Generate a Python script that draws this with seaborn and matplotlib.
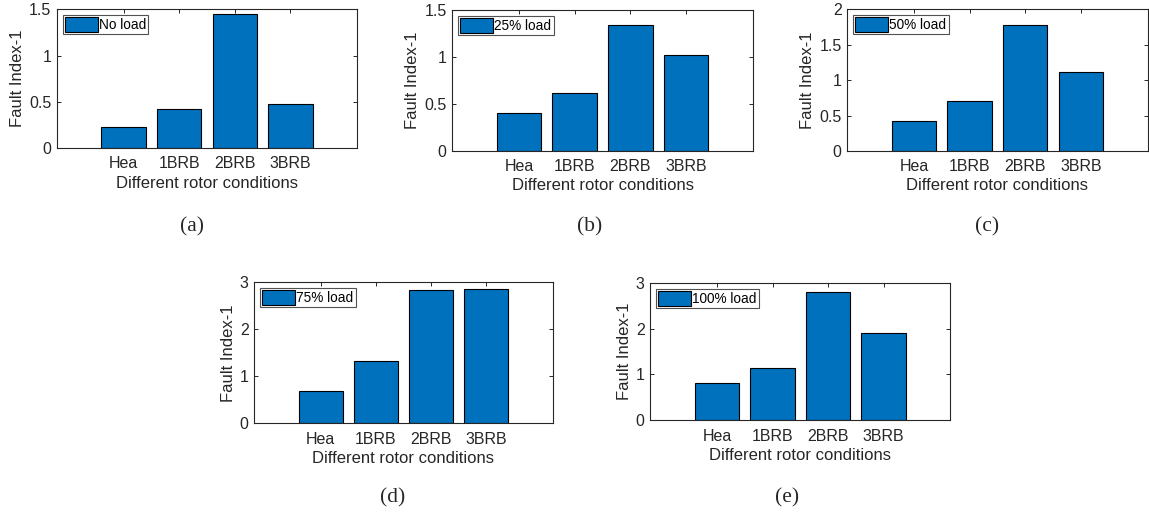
import matplotlib
matplotlib.use("Agg")
import matplotlib.pyplot as plt
import seaborn as sns
import pandas as pd

sns.set_style("white")
plt.rcParams['font.family'] = ['Liberation Sans', 'DejaVu Sans']

categories = ["Hea", "1BRB", "2BRB", "3BRB"]
no_load = [0.231, 0.419, 1.449, 0.477]
load_25 = [0.402, 0.611, 1.344, 1.017]
load_50 = [0.419, 0.711, 1.779, 1.111]
load_75 = [0.695, 1.333, 2.844, 2.851]
load_100 = [0.806, 1.133, 2.789, 1.903]

series = [
    ("No load", no_load, [0, 0.5, 1, 1.5], ["0", "0.5", "1", "1.5"], "(a)"),
    ("25% load", load_25, [0, 0.5, 1, 1.5], ["0", "0.5", "1", "1.5"], "(b)"),
    ("50% load", load_50, [0, 0.5, 1, 1.5, 2], ["0", "0.5", "1", "1.5", "2"], "(c)"),
    ("75% load", load_75, [0, 1, 2, 3], ["0", "1", "2", "3"], "(d)"),
    ("100% load", load_100, [0, 1, 2, 3], ["0", "1", "2", "3"], "(e)"),
]

W, H = 1149, 515
# pixel boxes: left, right, top, bottom
boxes = [
    (57, 357, 9.3, 148),
    (452.3, 752.7, 10, 150.7),
    (847.3, 1147.5, 9.3, 151),
    (254.3, 552.7, 282.3, 423.3),
    (650.3, 950.3, 282.7, 420.3),
]
label_pos = [(192, 227), (590, 227), (987, 227), (393, 498), (787, 498)]

fig = plt.figure(figsize=(W / 100, H / 100), dpi=100)
gray = "#262626"
blue = "#0072BD"

for (name, vals, yt, ytl, tag), (l, r, t, b), (lx, ly) in zip(series, boxes, label_pos):
    ax = fig.add_axes([l / W, (H - b) / H, (r - l) / W, (b - t) / H])
    df = pd.DataFrame({"cond": categories, "val": vals})
    sns.barplot(data=df, x="cond", y="val", color=blue, saturation=1,
                edgecolor="black", linewidth=0.8, width=0.8, ax=ax, label=name)
    ax.set_xlim(-1.2, 4.2)
    ax.set_ylim(yt[0], yt[-1])
    ax.set_yticks(yt)
    ax.set_yticklabels(ytl)
    ax.tick_params(direction="in", length=3, width=0.7, colors=gray,
                   labelsize=11.5, top=True, right=True, bottom=True, left=True)
    ax.tick_params(axis="x", pad=6)
    ax.tick_params(axis="y", pad=4)
    for sp in ax.spines.values():
        sp.set_visible(True)
        sp.set_color(gray)
        sp.set_linewidth(0.8)
    ax.set_xlabel("Different rotor conditions", fontsize=12, color=gray, labelpad=3)
    ax.set_ylabel("Fault Index-1", fontsize=12, color=gray, labelpad=3)
    leg = ax.legend(loc="upper left", fontsize=9.8, frameon=True, fancybox=False,
                    borderpad=0.15, handlelength=2.4, handleheight=1.3,
                    handletextpad=0.1, borderaxespad=0.45)
    leg.get_frame().set_edgecolor(gray)
    leg.get_frame().set_linewidth(0.8)
    for txt in leg.get_texts():
        txt.set_color("black")
    fig.text(lx / W, (H - ly) / H, tag, ha="center", va="center",
             fontsize=15.5, family=["Liberation Serif", "DejaVu Serif"])

fig.savefig("out.png", dpi=100)
